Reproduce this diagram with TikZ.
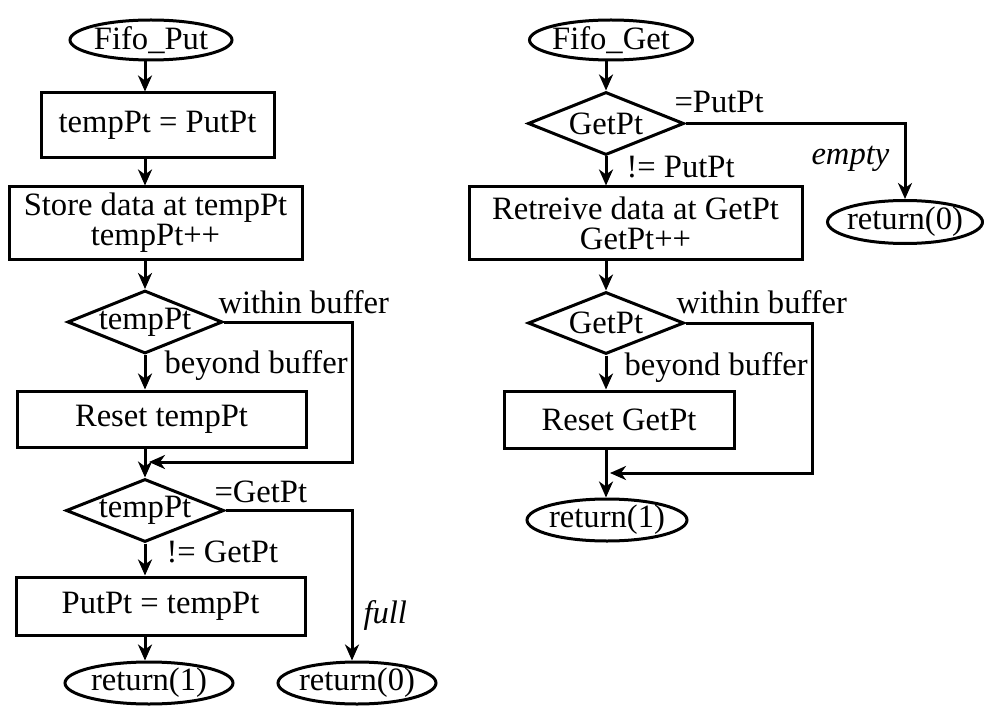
\documentclass[tikz,border=0pt]{standalone}
\usepackage{fontspec}
\setmainfont{Liberation Serif}
\usetikzlibrary{shapes.geometric,arrows.meta}
\begin{document}
\begin{tikzpicture}[x=0.5pt,y=-0.5pt,
  every node/.style={font=\fontsize{16.3}{15}\selectfont},
  line width=1.5pt,
  proc/.style={draw, rectangle, inner sep=0pt, align=center},
  term/.style={draw, ellipse, inner sep=0pt},
  dec/.style={draw, diamond, inner sep=0pt},
  lbl/.style={anchor=base west, inner sep=0pt},
  arr/.style={-{Stealth[length=8pt,width=7pt,inset=2.5pt]}}]
\useasboundingbox (0,0) rectangle (984,711);

% ---------- Fifo_Put ----------
\node[term, minimum width=81pt, minimum height=20pt] (fput) at (151,40) {\makebox[0pt]{Fifo\_Put}};
\node[proc, minimum width=116.5pt, minimum height=32.5pt] (b1) at (157.5,125.5) {tempPt = PutPt};
\node[proc, minimum width=146.5pt, minimum height=36pt] (b2) at (155.5,223) {Store data at tempPt\\tempPt++};
\node[dec, minimum width=77.5pt, minimum height=31.5pt] (d1) at (145,322) {\makebox[0pt]{tempPt}};
\node[proc, minimum width=144.5pt, minimum height=28pt] (b3) at (161.5,419) {Reset tempPt};
\node[dec, minimum width=79pt, minimum height=31.5pt] (d2) at (145,510.5) {\makebox[0pt]{tempPt}};
\node[proc, minimum width=144.5pt, minimum height=29pt] (b4) at (160.5,606) {PutPt = tempPt};
\node[term, minimum width=84pt, minimum height=21pt] (r1) at (149,683) {\makebox[0pt]{return(1)}};
\node[term, minimum width=79pt, minimum height=21pt] (r0) at (357,683) {\makebox[0pt]{return(0)}};
\coordinate (m1) at (352,462);

\draw[arr] (fput.south -| d1.north) -- (b1.north -| d1.north);
\draw[arr] (b1.south -| d1.north) -- (b2.north -| d1.north);
\draw[arr] (b2.south -| d1.north) -- (d1.north);
\draw[arr] (d1.south) -- (b3.north -| d1.south);
\draw[arr] (b3.south -| d2.north) -- (d2.north);
\draw[arr, shorten >=2pt] (d1.east) -| (m1) -- (m1 -| d1.south);
\draw[arr] (d2.south) -- (b4.north -| d2.south);
\draw[arr] (b4.south -| d2.south) -- (r1.north -| d2.south);
\draw[arr] (d2.east) -| (r0.north -| m1);

\node[lbl] (l1) at (217,313) {within buffer};
\node[lbl] (l2) at (163,373) {beyond buffer};
\node[lbl] (l3) at (213,502) {=GetPt};
\node[lbl] (l4) at (165,562) {!= GetPt};
\node[lbl] (l5) at (362,623) {\itshape full};

% ---------- Fifo_Get ----------
\node[term, minimum width=81.5pt, minimum height=20pt] (fget) at (611,40) {\makebox[0pt]{Fifo\_Get}};
\node[dec, minimum width=78pt, minimum height=31.5pt] (d3) at (606,123.5) {\makebox[0pt]{GetPt}};
\node[proc, minimum width=166.5pt, minimum height=36pt] (b5) at (635.5,223) {Retreive data at GetPt\\GetPt++};
\node[term, minimum width=77.5pt, minimum height=21.5pt] (r0b) at (905,222) {\makebox[0pt]{return(0)}};
\node[dec, minimum width=78pt, minimum height=31pt] (d4) at (606,323) {\makebox[0pt]{GetPt}};
\node[proc, minimum width=115pt, minimum height=28.5pt] (b6) at (619,419.5) {Reset GetPt};
\node[term, minimum width=80pt, minimum height=21pt] (r1b) at (607,520) {\makebox[0pt]{return(1)}};
\coordinate (m2) at (812,473);

\draw[arr] (fget.south -| d3.north) -- (d3.north);
\draw[arr] (d3.south) -- (b5.north -| d3.south);
\draw[arr] (b5.south -| d4.north) -- (d4.north);
\draw[arr] (d3.east) -| (r0b.north);
\draw[arr] (d4.south) -- (b6.north -| d4.south);
\draw[arr] (b6.south -| d4.south) -- (r1b.north -| d4.south);
\draw[arr, shorten >=2pt] (d4.east) -| (m2) -- (m2 -| d4.south);

\node[lbl] (l6) at (673,113) {=PutPt};
\node[lbl] (l7) at (625,178) {!= PutPt};
\node[lbl] (l8) at (810,165) {\itshape empty};
\node[lbl] (l9) at (675,313) {within buffer};
\node[lbl] (l10) at (623,375) {beyond buffer};
\end{tikzpicture}
\end{document}
